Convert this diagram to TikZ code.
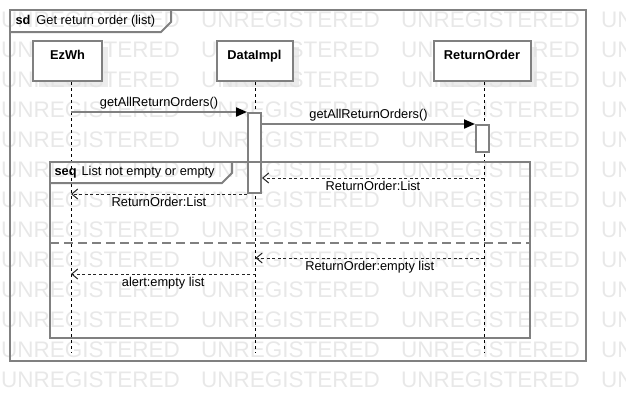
\documentclass[tikz,border=0pt]{standalone}
\usepackage{fontspec}
\setmainfont{Liberation Sans}
\usetikzlibrary{arrows.meta,shadows}

\definecolor{linegray}{HTML}{808080}
\definecolor{wmark}{HTML}{E8E8E8}

\begin{document}
\begin{tikzpicture}[x=1pt, y=-1pt,
	font=\fontsize{12.8}{15}\selectfont,
	frame/.style={draw=linegray, line width=2pt},
	head/.style={draw=linegray, line width=2pt, fill=white, inner sep=0pt,
		minimum height=40pt, text height=18pt, text depth=22pt,
		font=\fontsize{12.8}{15}\selectfont\bfseries,
		drop shadow={shadow xshift=6pt, shadow yshift=-6pt, fill=black!12, opacity=0.6}},
	activation/.style={draw=linegray, line width=2pt, fill=white,
		minimum width=13pt, inner sep=0pt},
	lifeline/.style={draw=black, line width=0.9pt, dash pattern=on 3pt off 3pt},
	sync/.style={draw=linegray, line width=2pt,
		-{Triangle[length=11pt, width=9pt, black]}},
	reply/.style={draw=black!85, line width=0.9pt, dash pattern=on 3pt off 2.5pt,
		-{Straight Barb[length=6pt, width=10pt, line width=1pt]}},
	wmtext/.style={anchor=west, inner sep=0pt, text=wmark,
		font=\fontsize{22.5}{24}\selectfont}]
	\useasboundingbox (0,0) rectangle (626,402);

	% watermark
	\begin{scope}
		\clip (0,0) rectangle (626,402);
		\foreach \r in {0,...,12}
			\foreach \c in {0,...,3}
				\node[wmtext] (wm-\r-\c) at (\c*200+1, 20+\r*30) {UNREGISTERED};
	\end{scope}

	% sd frame
	\node[frame, minimum width=576pt, minimum height=351pt] (sd) at (298,185.5) {};
	\draw[frame] (10,32) -- (161,32) -- (171,22) -- (171,10);
	\node[anchor=west] (sd-title) at (12,21) {\textbf{sd}\hspace{6pt}Get return order (list)};

	% lifelines
	\node[head, minimum width=69pt] (ezwh) at (67.5,61) {EzWh};
	\node[head, minimum width=76pt] (dataimpl) at (254.5,61) {DataImpl};
	\node[head, minimum width=97pt] (returnorder) at (482,61) {ReturnOrder};
	\coordinate (ezwh-end) at (71,353);
	\coordinate (dataimpl-end) at (255.5,353);
	\coordinate (returnorder-end) at (484,353);
	\draw[lifeline] (ezwh.south -| ezwh-end) -- (ezwh-end);
	\draw[lifeline] (dataimpl.south -| dataimpl-end) -- (dataimpl-end);
	\draw[lifeline] (returnorder.south -| returnorder-end) -- (returnorder-end);

	% activations
	\node[activation, minimum height=80pt] (dataimpl-act) at (254.5,153) {};
	\node[activation, minimum height=27pt] (returnorder-act) at (482.5,138.5) {};

	% seq fragment
	\node[frame, minimum width=480pt, minimum height=176pt] (seq) at (290,250) {};
	\draw[frame] (50,183) -- (222,183) -- (232,173) -- (232,162);
	\node[anchor=west] (seq-title) at (51,172.5) {\textbf{seq}\hspace{5pt}List not empty or empty};
	\coordinate (alt) at (50,243);
	\draw[frame, dash pattern=on 9pt off 5pt] (alt) -- (alt -| seq.east);

	% messages
	\draw[sync] (ezwh-end |- dataimpl-act.north) to
		node[above, inner sep=2pt] (m1) {getAllReturnOrders()}
		(dataimpl-act.north west);
	\draw[sync] (dataimpl-act.east |- returnorder-act.north) to
		node[above, inner sep=2pt] (m2) {getAllReturnOrders()}
		(returnorder-act.north west);

	% replies
	\coordinate (r1) at (484,178);
	\draw[reply] (r1) to
		node[below, inner sep=3pt] (m3) {ReturnOrder:List}
		(r1 -| dataimpl-act.east);
	\draw[reply] (dataimpl-act.south west) to
		node[below, inner sep=3pt] (m4) {ReturnOrder:List}
		(dataimpl-act.south west -| ezwh-end);
	\coordinate (r3) at (484,258);
	\draw[reply] (r3) to
		node[below, inner sep=3pt] (m5) {ReturnOrder:empty list}
		(r3 -| dataimpl-end);
	\coordinate (r4) at (255.5,274);
	\draw[reply] (r4) to
		node[below, inner sep=3pt] (m6) {alert:empty list}
		(r4 -| ezwh-end);
\end{tikzpicture}
\end{document}
